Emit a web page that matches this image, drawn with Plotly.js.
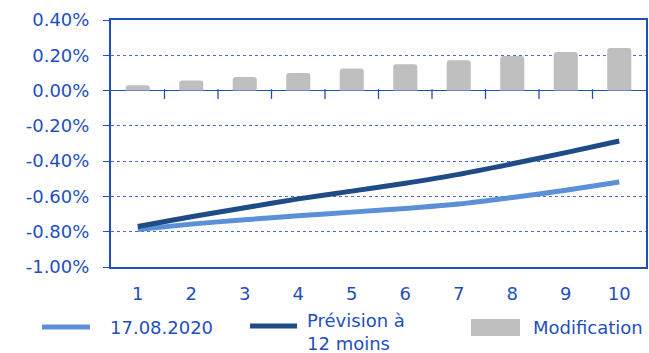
<!DOCTYPE html>
<html>
<head>
<meta charset="utf-8">
<script src="https://cdn.plot.ly/plotly-3.0.1.min.js"></script>
<style>html,body{margin:0;padding:0;background:#fff;}#chart{width:649px;height:353px;}</style>
</head>
<body>
<div id="chart"></div>
<script>
// Data
var categories = [1, 2, 3, 4, 5, 6, 7, 8, 9, 10];
var categoryLabels = ["1", "2", "3", "4", "5", "6", "7", "8", "9", "10"];
var boundaries = [1.5, 2.5, 3.5, 4.5, 5.5, 6.5, 7.5, 8.5, 9.5];
var series17082020 = [-0.787, -0.757, -0.732, -0.710, -0.689, -0.668, -0.643, -0.606, -0.565, -0.518];
var seriesPrevision = [-0.770, -0.715, -0.664, -0.614, -0.570, -0.525, -0.475, -0.415, -0.352, -0.286];
var seriesModification = [0.030, 0.057, 0.077, 0.100, 0.125, 0.149, 0.172, 0.196, 0.219, 0.242];
var yTickVals = [0.4, 0.2, 0, -0.2, -0.4, -0.6, -0.8, -1.0];
var yTickText = ["0.40%", "0.20%", "0.00%", "-0.20%", "-0.40%", "-0.60%", "-0.80%", "-1.00%"];
var legendNames = ["17.08.2020", "Prévision à<br>12 moins", "Modification"];

var BLUE = "#1f4fbf";
var GRID = "#4a70cc";
var LIGHT = "#5b8fd8";
var DARK = "#1f4b86";
var GRAY = "#bfbfbf";
var FONT = "DejaVu Sans, sans-serif";

// Plot area in pixels: left 111, right 646, top 20, bottom 267
var L = 111, R = 646, T = 20, B = 267;
var Y_RANGE = [-1.0, 0.4];
function px(x) { return (x - L) / (R - L); }
function py(y) { return (B - y) / (B - T); }

// Category-boundary tick marks below the zero line: 7 px long markers centred 3.5 px under zero
var TICK_PX = 7;
var tickCentre = -(TICK_PX / 2) * (Y_RANGE[1] - Y_RANGE[0]) / (B - T);
var tickYs = boundaries.map(function () { return tickCentre; });

var traces = [
  {type: "bar", x: categories, y: seriesModification, name: legendNames[2],
   width: 0.45, marker: {color: GRAY, cornerradius: 3, line: {width: 0}}, showlegend: false, hoverinfo: "skip"},
  {type: "scatter", mode: "lines", x: categories, y: series17082020, name: legendNames[0],
   line: {color: LIGHT, width: 5, shape: "spline", smoothing: 0.6}, showlegend: false, hoverinfo: "skip"},
  {type: "scatter", mode: "lines", x: categories, y: seriesPrevision, name: legendNames[1],
   line: {color: DARK, width: 5, shape: "spline", smoothing: 0.6}, showlegend: false, hoverinfo: "skip"},
  {type: "scatter", mode: "markers", x: boundaries, y: tickYs, showlegend: false, hoverinfo: "skip", cliponaxis: false,
   marker: {symbol: "line-ns", size: TICK_PX, color: BLUE, line: {color: BLUE, width: 1.3}}}
];

// Legend drawn as shapes + annotations
var shapes = [
  {type: "line", xref: "paper", yref: "paper", x0: px(42), x1: px(90), y0: py(327), y1: py(327), line: {color: LIGHT, width: 5}},
  {type: "line", xref: "paper", yref: "paper", x0: px(250), x1: px(297), y0: py(326), y1: py(326), line: {color: DARK, width: 5}},
  {type: "rect", xref: "paper", yref: "paper", x0: px(471), x1: px(520), y0: py(336), y1: py(319), line: {width: 0}, fillcolor: GRAY}
];
var annotations = [
  {xref: "paper", yref: "paper", x: px(108), y: py(327), xanchor: "left", yanchor: "middle", text: legendNames[0], showarrow: false, font: {family: FONT, size: 18, color: BLUE}},
  {xref: "paper", yref: "paper", x: px(305), y: py(331.5), xanchor: "left", yanchor: "middle", align: "left", text: legendNames[1], showarrow: false, font: {family: FONT, size: 18, color: BLUE}},
  {xref: "paper", yref: "paper", x: px(531), y: py(327), xanchor: "left", yanchor: "middle", text: legendNames[2], showarrow: false, font: {family: FONT, size: 18, color: BLUE}}
];

var layout = {
  width: 649, height: 353,
  margin: {l: L, r: 649 - R, t: T, b: 353 - B, pad: 0},
  paper_bgcolor: "#fff", plot_bgcolor: "#fff",
  font: {family: FONT, size: 18, color: BLUE},
  showlegend: false,
  xaxis: {
    range: [0.5, 10.5], tickmode: "array", tickvals: categories, ticktext: categoryLabels,
    showgrid: false, zeroline: false, showline: true, linecolor: BLUE, linewidth: 2, mirror: true,
    ticks: "", ticklabelstandoff: 9, tickfont: {family: FONT, size: 18, color: BLUE}, fixedrange: true
  },
  yaxis: {
    range: Y_RANGE, tickmode: "array", tickvals: yTickVals, ticktext: yTickText,
    showgrid: true, gridcolor: GRID, griddash: "dot", gridwidth: 1,
    zeroline: true, zerolinecolor: BLUE, zerolinewidth: 1,
    showline: true, linecolor: BLUE, linewidth: 2, mirror: true,
    ticks: "outside", ticklen: 6, tickcolor: BLUE, tickwidth: 1,
    ticklabelstandoff: 10, tickfont: {family: FONT, size: 18, color: BLUE}, fixedrange: true
  },
  shapes: shapes,
  annotations: annotations
};

Plotly.newPlot("chart", traces, layout, {staticPlot: true, displayModeBar: false});
</script>
</body>
</html>
